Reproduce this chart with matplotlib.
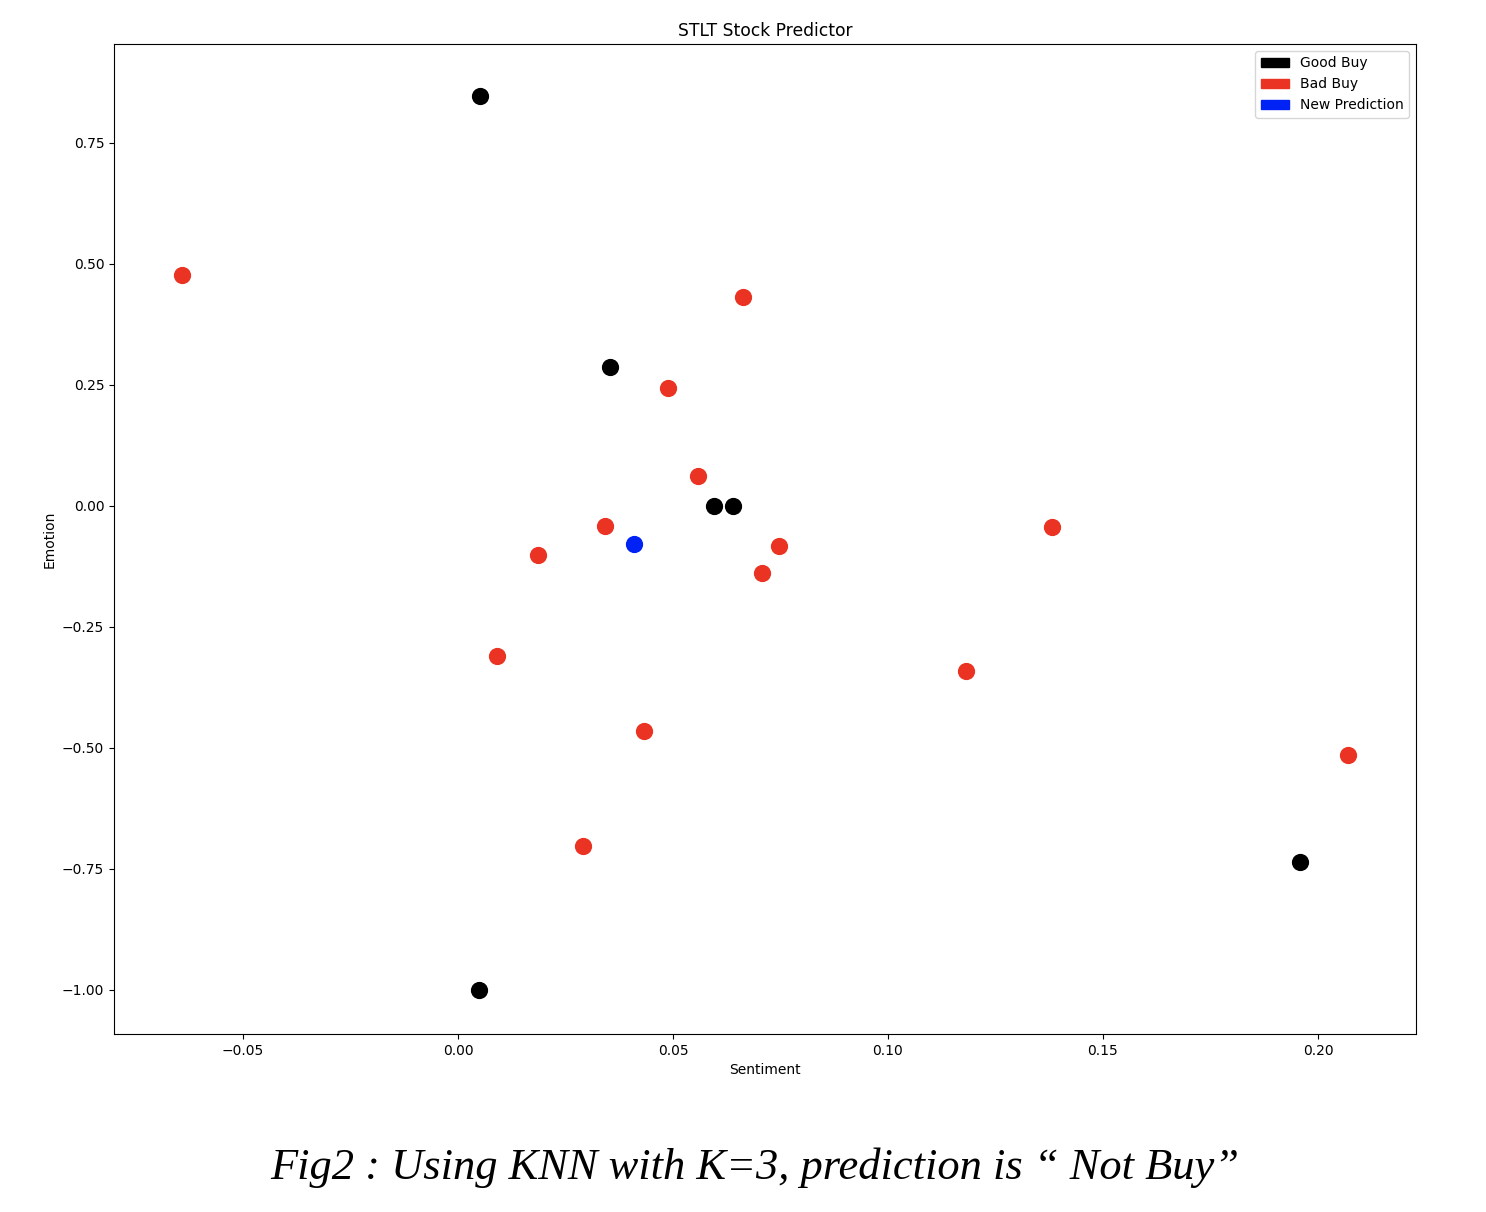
import matplotlib
matplotlib.use('Agg')

import matplotlib.pyplot as plt
import matplotlib.patches as mpatches

# 数据
good_x = [0.0051, 0.0353, 0.0595, 0.0640, 0.1958, 0.0049]
good_y = [0.847, 0.287, 0.000, 0.000, -0.736, -1.000]

bad_x = [-0.0642, 0.0663, 0.0488, 0.0558, 0.0342, 0.0186, 0.0747, 0.0707,
         0.1381, 0.0091, 0.1181, 0.0433, 0.2070, 0.0291]
bad_y = [0.477, 0.432, 0.244, 0.062, -0.041, -0.101, -0.083, -0.138,
         -0.043, -0.310, -0.341, -0.465, -0.514, -0.702]

new_x = [0.0409]
new_y = [-0.079]

good_color = 'black'
bad_color = '#ea3323'
new_color = '#0022f5'

fig = plt.figure(figsize=(14.86, 12.12), dpi=100)
ax = fig.add_axes([0.0767, 0.1469, 0.8762, 0.8168])

ax.scatter(good_x, good_y, s=130, c=good_color, zorder=3)
ax.scatter(bad_x, bad_y, s=130, c=bad_color, zorder=3)
ax.scatter(new_x, new_y, s=130, c=new_color, zorder=3)

ax.set_xlim(-0.08, 0.2228)
ax.set_ylim(-1.091, 0.9545)
ax.set_xticks([-0.05, 0.00, 0.05, 0.10, 0.15, 0.20])
ax.set_yticks([-1.00, -0.75, -0.50, -0.25, 0.00, 0.25, 0.50, 0.75])
ax.tick_params(labelsize=10)

ax.set_title('STLT Stock Predictor', fontsize=12.3)
ax.set_xlabel('Sentiment', fontsize=10)
ax.set_ylabel('Emotion', fontsize=10)

handles = [mpatches.Patch(color=good_color, label='Good Buy'),
           mpatches.Patch(color=bad_color, label='Bad Buy'),
           mpatches.Patch(color=new_color, label='New Prediction')]
ax.legend(handles=handles, loc='upper right', fontsize=10)

# 图注
fig.text(0.508, 0.027, 'Fig2 : Using KNN with K=3, prediction is \u201c Not Buy\u201d',
         ha='center', fontsize=32, style='italic', family='Liberation Serif')

fig.savefig('out.png', dpi=100)
